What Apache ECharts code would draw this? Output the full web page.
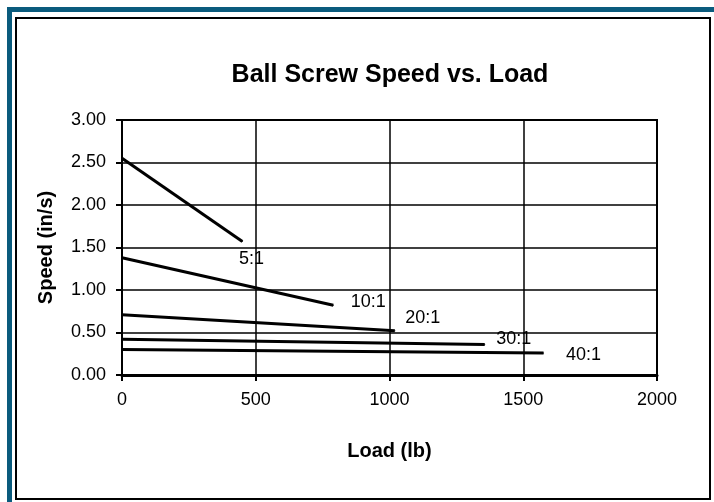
<!DOCTYPE html>
<html>
<head>
<meta charset="utf-8">
<script src="https://cdn.jsdelivr.net/npm/echarts@6/dist/echarts.min.js"></script>
<style>
html,body{margin:0;padding:0;background:#fff;}
#chart{width:714px;height:502px;}
</style>
</head>
<body>
<div id="chart"></div>
<script>
// Data
const seriesNames = ['5:1', '10:1', '20:1', '30:1', '40:1'];
const loads5 = [0, 450];    const speeds5 = [2.55, 1.57];
const loads10 = [0, 790];   const speeds10 = [1.38, 0.82];
const loads20 = [0, 1020];  const speeds20 = [0.71, 0.52];
const loads30 = [0, 1356];  const speeds30 = [0.42, 0.36];
const loads40 = [0, 1576];  const speeds40 = [0.30, 0.26];
const xTicks = [0, 500, 1000, 1500, 2000];
const yTicks = [0, 0.5, 1.0, 1.5, 2.0, 2.5, 3.0];

const allLoads = [loads5, loads10, loads20, loads30, loads40];
const allSpeeds = [speeds5, speeds10, speeds20, speeds30, speeds40];
const labelOffsets = [[-9, 17], [12, -3], [5, -13], [6, -5], [17, 2]];

const FONT = '"Liberation Sans", Arial, sans-serif';

const series = seriesNames.map((name, i) => {
  const xs = allLoads[i], ys = allSpeeds[i];
  const data = xs.map((x, j) => {
    const item = { value: [x, ys[j]] };
    if (j === xs.length - 1) {
      item.label = {
        show: true, formatter: name, position: 'right', distance: 5,
        offset: labelOffsets[i], color: '#000', fontFamily: FONT, fontSize: 18
      };
    }
    return item;
  });
  return {
    name, type: 'line', data,
    symbol: 'circle', symbolSize: 1, showSymbol: true,
    itemStyle: { color: '#000' },
    lineStyle: { color: '#000', width: 3 },
    label: { show: false },
    animation: false, silent: true
  };
});

const chart = echarts.init(document.getElementById('chart'), null, { renderer: 'canvas' });
chart.setOption({
  backgroundColor: '#fff',
  animation: false,
  title: {
    text: 'Ball Screw Speed vs. Load',
    left: 385, top: 58, textAlign: 'center',
    textStyle: { fontFamily: FONT, fontWeight: 'bold', fontSize: 25, color: '#000' }
  },
  grid: {
    left: 122, right: 57, top: 120, bottom: 127,
    show: true, borderColor: '#000', borderWidth: 2, backgroundColor: 'transparent'
  },
  xAxis: {
    type: 'value', min: xTicks[0], max: xTicks[xTicks.length - 1], interval: 500,
    name: 'Load (lb)', nameLocation: 'middle', nameGap: 66,
    nameTextStyle: { fontFamily: FONT, fontWeight: 'bold', fontSize: 20, color: '#000' },
    axisLine: { show: true, lineStyle: { color: '#000', width: 3 } },
    axisTick: { show: true, inside: false, length: 6, lineStyle: { color: '#000', width: 2 } },
    axisLabel: { color: '#000', fontFamily: FONT, fontSize: 18, margin: 16, formatter: v => String(v) },
    splitLine: { show: true, lineStyle: { color: '#000', width: 1.5 } }
  },
  yAxis: {
    type: 'value', min: yTicks[0], max: yTicks[yTicks.length - 1], interval: 0.5,
    name: 'Speed (in/s)', nameLocation: 'middle', nameGap: 66, nameRotate: 90,
    nameTextStyle: { fontFamily: FONT, fontWeight: 'bold', fontSize: 20, color: '#000' },
    axisLine: { show: true, lineStyle: { color: '#000', width: 2 } },
    axisTick: { show: true, inside: false, length: 6, lineStyle: { color: '#000', width: 2 } },
    axisLabel: { color: '#000', fontFamily: FONT, fontSize: 18, margin: 16, formatter: v => v.toFixed(2) },
    splitLine: { show: true, lineStyle: { color: '#000', width: 1.5 } }
  },
  graphic: [
    { type: 'rect', shape: { x: 7, y: 7, width: 707, height: 5 }, style: { fill: '#0a5b7d' }, silent: true },
    { type: 'rect', shape: { x: 7, y: 7, width: 5, height: 495 }, style: { fill: '#0a5b7d' }, silent: true },
    { type: 'rect', shape: { x: 16, y: 18, width: 694, height: 481 }, style: { fill: 'none', stroke: '#000', lineWidth: 2 }, silent: true }
  ],
  series
});
</script>
</body>
</html>
